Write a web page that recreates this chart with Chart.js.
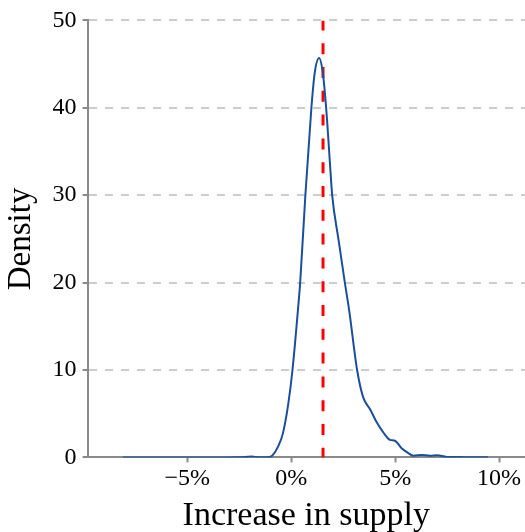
<!DOCTYPE html>
<html>
<head>
<meta charset="utf-8">
<script src="https://cdn.jsdelivr.net/npm/chart.js@4/dist/chart.umd.min.js"></script>
<style>
  html, body { margin: 0; padding: 0; background: #fff; overflow: hidden; }
  #wrap { position: absolute; left: 0; top: 0; width: 525px; height: 538px; }
</style>
</head>
<body>
<div id="wrap"><canvas id="c"></canvas></div>
<script>
// Kernel density of the simulated supply increase (in %)
const supplyPct = [-8.1, -6.0, -4.0, -2.5, -1.92, -1.5, -1.2, -1.0, -0.88, -0.64, -0.4, -0.15, 0.06, 0.36, 0.43, 0.68, 0.97, 1.13, 1.34, 1.52, 1.68, 1.89, 1.97, 2.27, 2.58, 2.79, 3.17, 3.46, 3.82, 4.1, 4.42, 4.75, 4.99, 5.31, 5.6, 5.87, 6.27, 6.67, 7.03, 7.48, 8.12, 8.6, 9.47];
const density   = [0, 0, 0, 0.02, 0.1, 0.02, 0.02, 0.08, 0.3, 1.2, 2.75, 6.0, 10, 17.9, 20, 30, 40, 44, 45.7, 44, 40, 32.7, 30, 25, 20, 16.8, 10, 6.9, 5.4, 4.07, 2.9, 2.0, 1.9, 1.05, 0.55, 0.2, 0.28, 0.2, 0.25, 0.06, 0.05, 0.01, 0.02];

// Mean increase, marked with a vertical reference line
const meanPct = 1.53;

const xTickValues = [-5, 0, 5, 10];
const yTickStep = 10;
const xRange = [-9.8, 11.25];
const yRange = [0, 50];

const serif = 'Liberation Serif, "Times New Roman", Times, serif';
const axisGray = '#8a8a8a';

new Chart(document.getElementById('c'), {
  type: 'line',
  data: {
    datasets: [
      {
        data: supplyPct.map((x, i) => ({ x: x, y: density[i] })),
        borderColor: '#1a4f9c',
        borderWidth: 2,
        pointRadius: 0,
        cubicInterpolationMode: 'monotone',
        fill: false
      },
      {
        data: [{ x: meanPct, y: yRange[1] }, { x: meanPct, y: yRange[0] }],
        borderColor: '#ff0000',
        borderWidth: 3,
        borderDash: [11, 12.8],
        borderDashOffset: 1,
        pointRadius: 0,
        fill: false
      }
    ]
  },
  options: {
    responsive: true,
    maintainAspectRatio: false,
    animation: false,
    layout: { padding: { top: 17, left: 0, right: 0, bottom: 0 } },
    plugins: { legend: { display: false }, tooltip: { enabled: false } },
    scales: {
      x: {
        type: 'linear',
        min: xRange[0],
        max: xRange[1],
        afterBuildTicks: (scale) => { scale.ticks = xTickValues.map(v => ({ value: v })); },
        ticks: {
          color: '#000',
          font: { family: serif, size: 24 },
          padding: 2,
          maxRotation: 0,
          callback: (v) => (v < 0 ? '\u2212' + Math.abs(v) : v) + '%'
        },
        grid: {
          drawOnChartArea: false,
          drawTicks: true,
          tickLength: 5,
          tickColor: axisGray,
          tickWidth: 2
        },
        border: { color: axisGray, width: 2 },
        title: {
          display: true,
          text: 'Increase in supply',
          color: '#000',
          font: { family: serif, size: 34 },
          padding: { top: 0, bottom: 2 }
        }
      },
      y: {
        min: yRange[0],
        max: yRange[1],
        ticks: {
          stepSize: yTickStep,
          color: '#000',
          font: { family: serif, size: 24 },
          padding: 6
        },
        grid: {
          color: '#cccccc',
          lineWidth: 2,
          drawTicks: true,
          tickLength: 5,
          tickColor: axisGray,
          tickWidth: 2,
          tickBorderDash: []
        },
        border: { color: axisGray, width: 2, dash: [8, 8] },
        title: {
          display: true,
          text: 'Density',
          color: '#000',
          font: { family: serif, size: 33 },
          padding: { top: 2, bottom: 5 }
        }
      }
    }
  }
});
</script>
</body>
</html>
